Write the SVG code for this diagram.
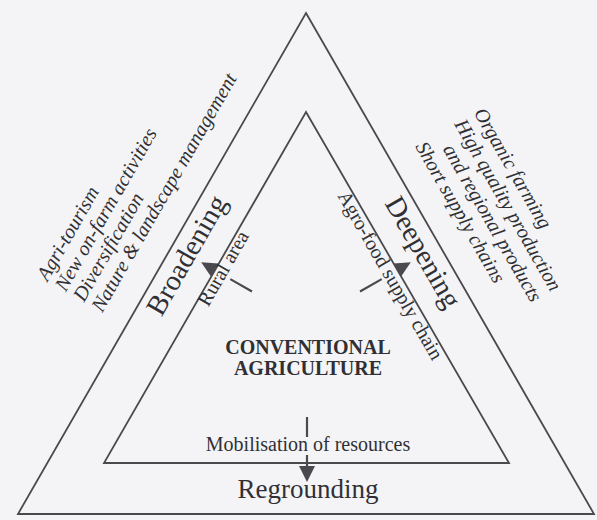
<svg xmlns="http://www.w3.org/2000/svg" width="597" height="520" viewBox="0 0 597 520">
<defs>
<style>
.bg{fill:#f4f4f6}
.tri{fill:none;stroke:#4a4a4e;stroke-width:1.8;stroke-linejoin:miter}
.ln{stroke:#4a4a4e;stroke-width:2.2;fill:none}
.hd{fill:#4a4a4e}
text{font-family:"Liberation Serif","Times New Roman",serif;fill:#303034}
.it{font-style:italic;font-size:20.2px}
.big{font-size:28.5px}
.sm{font-size:20px}
.bold{font-weight:bold;font-size:20px}
</style>
</defs>
<rect class="bg" x="0" y="0" width="597" height="520"/>
<g id="outer-triangle"><polygon class="tri" points="306,13 594,514 18,514"/></g>
<g id="inner-triangle"><polygon class="tri" points="306,112 509,463 104,463"/></g>
<g id="connectors">
<line class="ln" x1="252" y1="291.5" x2="230.3" y2="279.1"/>
<polygon class="hd" points="201.2,262.3 218.4,263.6 210.9,276.6"/>
<line class="ln" x1="360" y1="291.5" x2="381.7" y2="279.1"/>
<polygon class="hd" points="410.8,262.3 393.6,263.6 401.1,276.6"/>
<line class="ln" x1="307" y1="417" x2="307" y2="437"/>
<line class="ln" x1="307" y1="455" x2="307" y2="468"/>
<polygon class="hd" points="299,466 315,466 307,482"/>
</g>
<g id="broadening-activities">
<text class="it" transform="translate(47.6,281.9) rotate(-60.11)">Agri-tourism</text>
<text class="it" transform="translate(65.8,292.4) rotate(-60.11)">New on-farm activities</text>
<text class="it" transform="translate(84.0,302.8) rotate(-60.11)">Diversification</text>
<text class="it" transform="translate(102.2,313.3) rotate(-60.11)">Nature &amp; landscape management</text>
</g>
<g id="deepening-activities">
<text class="it" transform="translate(473.5,112.8) rotate(60.11)">Organic farming</text>
<text class="it" transform="translate(454.0,124.0) rotate(60.11)">High quality production</text>
<text class="it" transform="translate(442.5,149.1) rotate(60.11)">and regional products</text>
<text class="it" transform="translate(415.0,146.4) rotate(60.11)">Short supply chains</text>
</g>
<g id="broadening"><text class="big" transform="translate(161.5,317.5) rotate(-60.11)">Broadening</text></g>
<g id="deepening"><text class="big" transform="translate(384.3,203.3) rotate(60.11)">Deepening</text></g>
<g id="rural-area"><text class="sm" transform="translate(208.3,307.4) rotate(-60.11)">Rural area</text></g>
<g id="agro-food"><text class="sm" transform="translate(337.2,195.7) rotate(60.11)">Agro-food supply chain</text></g>
<g id="conventional">
<text class="bold" x="308" y="354" text-anchor="middle">CONVENTIONAL</text>
<text class="bold" x="308" y="375" text-anchor="middle">AGRICULTURE</text>
</g>
<g id="mobilisation"><text class="sm" x="308" y="451" text-anchor="middle">Mobilisation of resources</text></g>
<g id="regrounding"><text x="308" y="498" text-anchor="middle" style="font-size:27px">Regrounding</text></g>
</svg>
